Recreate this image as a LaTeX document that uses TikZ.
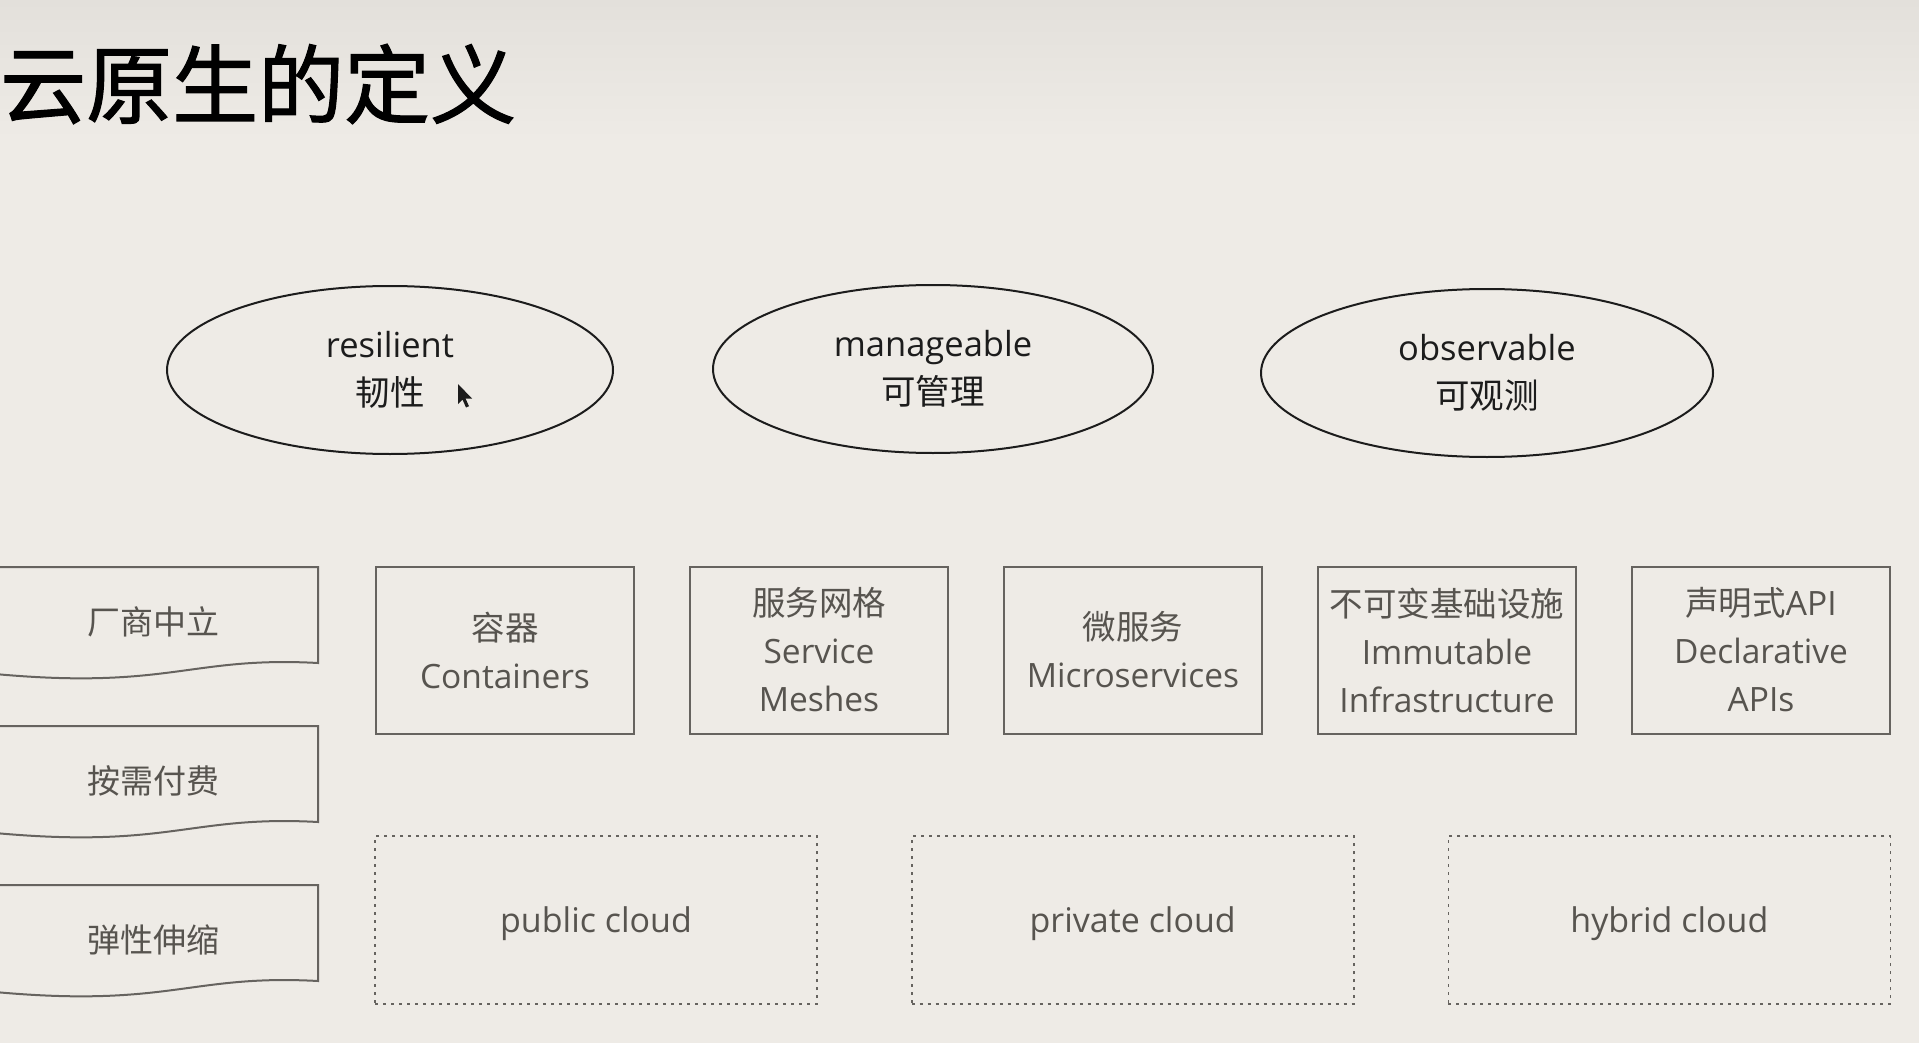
\documentclass[tikz,border=0pt]{standalone}
\usepackage{fontspec}
\setmainfont{Open Sans}
\newfontfamily\cjk{Noto Sans CJK SC}
\newfontfamily\titlefont[FakeBold=1.3]{Noto Sans CJK SC}
\usetikzlibrary{shapes.geometric,positioning}
\definecolor{paper}{HTML}{EEEBE6}
\definecolor{paperdark}{HTML}{E3E0DB}
\definecolor{boxline}{HTML}{66635F}
\definecolor{boxtext}{HTML}{57544F}
\definecolor{ink}{HTML}{1C1C1C}
\tikzset{
  concept/.style={ellipse,draw=ink,line width=2pt,inner sep=0pt,minimum width=446pt,
    minimum height=168pt,text=ink,align=center,font=\fontsize{34.5}{48}\selectfont},
  pillar/.style={rectangle,draw=boxline,line width=2pt,minimum width=258pt,minimum height=167pt,
    inner sep=0pt,text=boxtext,align=center,font=\fontsize{33.5}{48}\selectfont},
  cloudbox/.style={rectangle,draw=boxline,line width=1.7pt,dash pattern=on 3pt off 5pt,
    minimum width=442pt,minimum height=168pt,text=boxtext,font=\fontsize{34}{48}\selectfont},
  tapeline/.style={draw=boxline,line width=2pt},
  tapetext/.style={text=boxtext,font=\cjk\fontsize{33}{48}\selectfont}
}
\newcommand\lowtext[1]{\raisebox{-4pt}[\height][\depth]{#1}}

\begin{document}
\begin{tikzpicture}[x=1pt,y=-1pt]
\fill[paper] (0,0) rectangle (1919,1043);
\shade[top color=paperdark,bottom color=paper] (0,0) rectangle (1919,140);
\useasboundingbox (0,0) rectangle (1919,1043);

% title
\node[anchor=west,inner sep=0pt,text=black,font=\titlefont\fontsize{86}{94}\selectfont]
  (title) at (0,84) {云原生的定义};

% three properties
\node[concept] (resilient) at (390,370) {resilient\\{\cjk 韧性}};
\node[concept,minimum width=440pt] (manageable) at (933,369) {manageable\\{\cjk 可管理}};
\node[concept,minimum width=452pt] (observable) at (1487,373) {observable\\{\cjk 可观测}};
\fill[ink] (458,384) -- ++(0,20) -- ++(4.5,-4.5) -- ++(3.5,8) -- ++(3,-1.3)
  -- ++(-3.5,-7.7) -- ++(6.5,0) -- cycle;

% technologies
\node[pillar] (containers) at (505,650) {{\cjk 容器}\\Containers};
\node[pillar,right=54pt of containers] (meshes) {{\cjk 服务网格}\\Service\\Meshes};
\node[pillar,right=54pt of meshes] (micro) {{\cjk 微服务}\\Microservices};
\node[pillar,right=54pt of micro] (immutable) {{\cjk 不可变基础设施}\\Immutable\\Infrastructure};
\node[pillar,right=54pt of immutable] (declarative) {{\cjk 声明式}API\\Declarative\\APIs};

% clouds
\node[cloudbox] (public) at (596,920) {\lowtext{public cloud}};
\node[cloudbox,right=93pt of public] (private) {\lowtext{private cloud}};
\node[cloudbox,right=93pt of private] (hybrid) {\lowtext{hybrid cloud}};

% left tapes
\foreach \dy/\name/\txt in {0/neutral/厂商中立,159/ondemand/按需付费,318/elastic/弹性伸缩} {
  \draw[tapeline] (-5,567+\dy) -- (318,567+\dy) -- (318,663+\dy)
    .. controls (190,656+\dy) and (170,690+\dy) .. (-5,674+\dy);
  \node[tapetext] (\name) at (153,622+\dy) {\txt};
}
\end{tikzpicture}
\end{document}
